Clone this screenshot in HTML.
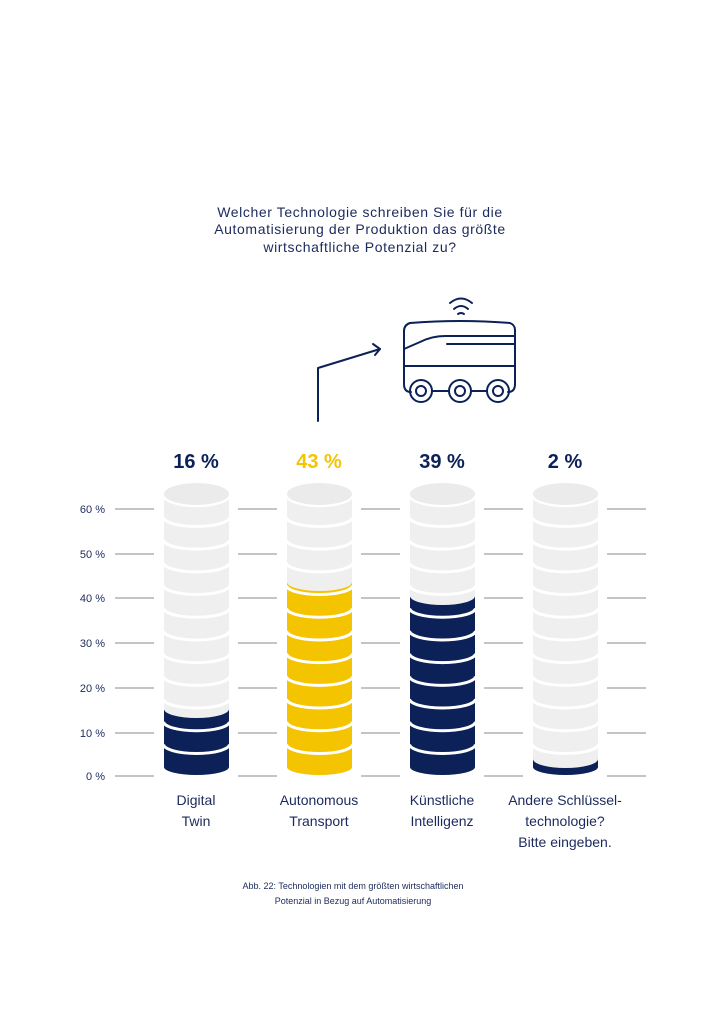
<!DOCTYPE html>
<html><head><meta charset="utf-8"><style>
body{margin:0;background:#fff;}
svg{display:block;font-family:"Liberation Sans","DejaVu Sans",sans-serif;}
</style></head><body>
<svg width="724" height="1024" viewBox="0 0 724 1024">
<defs>
<g id="cyl">
<rect x="-32.5" y="495" width="65" height="272" fill="#efefef"/>
<ellipse cx="0" cy="767" rx="32.5" ry="8" fill="#efefef"/>
</g>
<g id="sep" fill="none" stroke="#fff" stroke-width="3">
<path d="M-33,744.3A32.5 9 0 0 0 33,744.3"/>
<path d="M-33,721.6A32.5 9 0 0 0 33,721.6"/>
<path d="M-33,698.9A32.5 9 0 0 0 33,698.9"/>
<path d="M-33,676.2A32.5 9 0 0 0 33,676.2"/>
<path d="M-33,653.5A32.5 9 0 0 0 33,653.5"/>
<path d="M-33,630.8A32.5 9 0 0 0 33,630.8"/>
<path d="M-33,608.1A32.5 9 0 0 0 33,608.1"/>
<path d="M-33,585.4A32.5 9 0 0 0 33,585.4"/>
<path d="M-33,562.7A32.5 9 0 0 0 33,562.7"/>
<path d="M-33,540A32.5 9 0 0 0 33,540"/>
<path d="M-33,517.3A32.5 9 0 0 0 33,517.3"/>
<path d="M-33,494.6A32.5 11 0 0 0 33,494.6"/>
</g>
</defs>

<g font-size="14" fill="#1b2a5c" text-anchor="middle" letter-spacing="0.6">
<text x="360" y="217">Welcher Technologie schreiben Sie für die</text>
<text x="360" y="234">Automatisierung der Produktion das größte</text>
<text x="360" y="252">wirtschaftliche Potenzial zu?</text>
</g>

<!-- icon -->
<g fill="none" stroke="#0b2157" stroke-width="2" stroke-linecap="round" stroke-linejoin="round">
<path d="M318,421 V368 L380,349"/>
<path d="M373,344 L380,349 L375,355"/>
<path d="M450,303 Q461,294 472,303"/>
<path d="M454,309 Q461,303 468,309"/>
<path d="M458,314 Q461,312 464,314"/>
<path d="M410,323 Q461,319 510,323 Q515,325 515,330 V384 Q515,392 508,392 M410,323 Q404,325 404,331 V384 Q404,392 411,392"/>
<path d="M404,349 L420,342 Q432,336 445,336 H515"/>
<path d="M447,344 H515"/>
<path d="M404,366 H515"/>
<circle cx="421" cy="391" r="11"/><circle cx="421" cy="391" r="5"/>
<circle cx="460" cy="391" r="11"/><circle cx="460" cy="391" r="5"/>
<circle cx="498" cy="391" r="11"/><circle cx="498" cy="391" r="5"/>
<path d="M432,391 H449 M471,391 H487"/>
</g>

<!-- gridlines -->
<g stroke="#8a8a8a" stroke-width="1">
<path d="M115,509H154M238,509H277M361,509H400M484,509H523M607,509H646"/>
<path d="M115,554H154M238,554H277M361,554H400M484,554H523M607,554H646"/>
<path d="M115,598H154M238,598H277M361,598H400M484,598H523M607,598H646"/>
<path d="M115,643H154M238,643H277M361,643H400M484,643H523M607,643H646"/>
<path d="M115,688H154M238,688H277M361,688H400M484,688H523M607,688H646"/>
<path d="M115,733H154M238,733H277M361,733H400M484,733H523M607,733H646"/>
<path d="M115,776H154M238,776H277M361,776H400M484,776H523M607,776H646"/>
</g>
<g font-size="11" fill="#1b2a5c" text-anchor="end">
<text x="105" y="513">60 %</text><text x="105" y="558">50 %</text>
<text x="105" y="602">40 %</text><text x="105" y="647">30 %</text>
<text x="105" y="692">20 %</text><text x="105" y="737">10 %</text>
<text x="105" y="780">0 %</text>
</g>

<!-- columns -->
<g transform="translate(196.5,0)">
<use href="#cyl"/>
<path d="M-32.5,709A32.5 9 0 0 0 32.5,709L32.5,767A32.5 8 0 0 1 -32.5,767Z" fill="#0b2157"/>
<use href="#sep"/>
<ellipse cx="0" cy="494" rx="32.5" ry="11" fill="#ebebeb"/>
</g>
<g transform="translate(319.5,0)">
<use href="#cyl"/>
<path d="M-32.5,582A32.5 9 0 0 0 32.5,582L32.5,767A32.5 8 0 0 1 -32.5,767Z" fill="#f4c400"/>
<use href="#sep"/>
<ellipse cx="0" cy="494" rx="32.5" ry="11" fill="#ebebeb"/>
</g>
<g transform="translate(442.5,0)">
<use href="#cyl"/>
<path d="M-32.5,596A32.5 9 0 0 0 32.5,596L32.5,767A32.5 8 0 0 1 -32.5,767Z" fill="#0b2157"/>
<use href="#sep"/>
<ellipse cx="0" cy="494" rx="32.5" ry="11" fill="#ebebeb"/>
</g>
<g transform="translate(565.5,0)">
<use href="#cyl"/>
<path d="M-32.5,759A32.5 9 0 0 0 32.5,759L32.5,767A32.5 8 0 0 1 -32.5,767Z" fill="#0b2157"/>
<use href="#sep"/>
<ellipse cx="0" cy="494" rx="32.5" ry="11" fill="#ebebeb"/>
</g>

<g font-size="20" font-weight="bold" text-anchor="middle">
<text x="196" y="468" fill="#0b2157">16 %</text>
<text x="319" y="468" fill="#f4c400">43 %</text>
<text x="442" y="468" fill="#0b2157">39 %</text>
<text x="565" y="468" fill="#0b2157">2 %</text>
</g>

<g font-size="14" fill="#1b2a5c" text-anchor="middle">
<text x="196" y="805">Digital</text><text x="196" y="826">Twin</text>
<text x="319" y="805">Autonomous</text><text x="319" y="826">Transport</text>
<text x="442" y="805">Künstliche</text><text x="442" y="826">Intelligenz</text>
<text x="565" y="805">Andere Schlüssel-</text><text x="565" y="826">technologie?</text><text x="565" y="847">Bitte eingeben.</text>
</g>

<g font-size="9" fill="#1b2a5c" text-anchor="middle">
<text x="353" y="889">Abb. 22: Technologien mit dem größten wirtschaftlichen</text>
<text x="353" y="904">Potenzial in Bezug auf Automatisierung</text>
</g>
</svg>
</body></html>
